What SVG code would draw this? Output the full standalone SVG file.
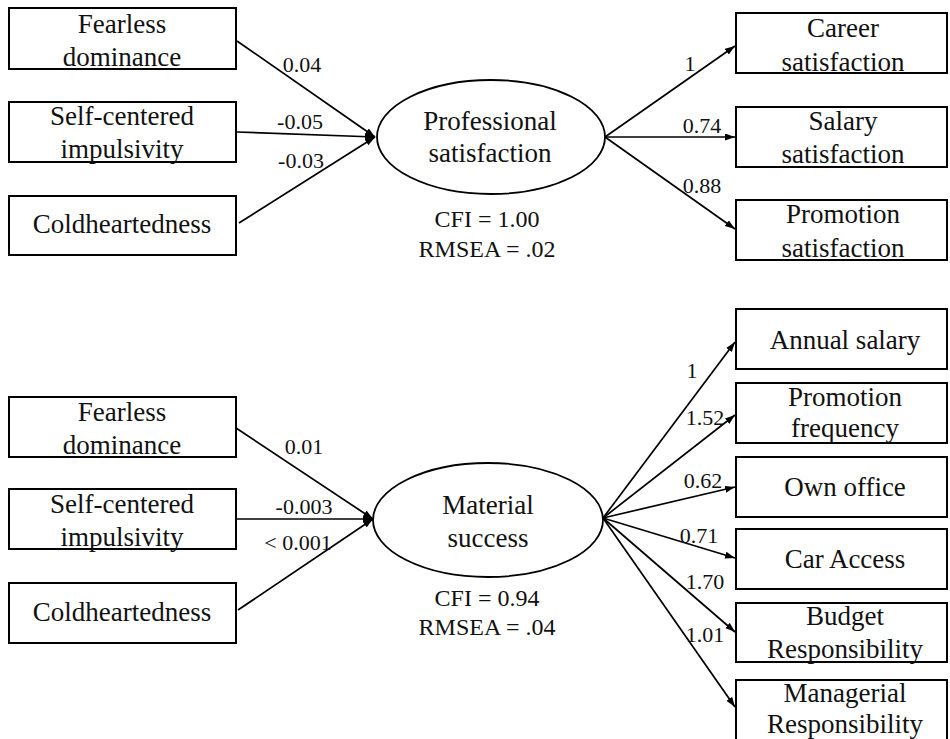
<svg xmlns="http://www.w3.org/2000/svg" width="950" height="739" viewBox="0 0 950 739">
<style>
  .box{fill:#fff;stroke:#000;stroke-width:2}
  .lat{fill:#fff;stroke:#000;stroke-width:1.8}
  .t{font-family:"Liberation Serif","Times New Roman",serif;font-size:27px;fill:#111;text-anchor:middle}
  .fit{font-family:"Liberation Serif","Times New Roman",serif;font-size:24px;fill:#111;text-anchor:middle}
  .lbl{font-family:"Liberation Serif","Times New Roman",serif;font-size:22px;fill:#111;text-anchor:middle}
  .edge{fill:none;stroke:#000;stroke-width:1.7;marker-end:url(#arr)}
</style>
<defs>
  <marker id="arr" markerUnits="userSpaceOnUse" markerWidth="11" markerHeight="9" refX="10" refY="3.5" orient="auto">
    <path d="M0,0 L10,3.5 L0,7 z" fill="#000"/>
  </marker>
</defs>
<rect width="950" height="739" fill="#fff"/>

<g id="connectors">
  <line class="edge" x1="237" y1="41" x2="375" y2="137"/>
  <line class="edge" x1="237" y1="132" x2="375" y2="137"/>
  <line class="edge" x1="239" y1="223" x2="375" y2="137"/>
  <line class="edge" x1="605" y1="137" x2="735" y2="46"/>
  <line class="edge" x1="605" y1="137" x2="735" y2="137"/>
  <line class="edge" x1="605" y1="137" x2="735" y2="229"/>

  <line class="edge" x1="236" y1="428" x2="373" y2="519"/>
  <line class="edge" x1="236" y1="519" x2="373" y2="519"/>
  <line class="edge" x1="238" y1="610" x2="373" y2="519"/>
  <line class="edge" x1="603" y1="518" x2="735" y2="342"/>
  <line class="edge" x1="603" y1="518" x2="735" y2="415"/>
  <line class="edge" x1="603" y1="518" x2="735" y2="487"/>
  <line class="edge" x1="603" y1="518" x2="735" y2="558"/>
  <line class="edge" x1="603" y1="518" x2="735" y2="632"/>
  <line class="edge" x1="603" y1="518" x2="735" y2="707"/>

  <text class="lbl" x="302" y="72">0.04</text>
  <text class="lbl" x="300" y="129">-0.05</text>
  <text class="lbl" x="301" y="168">-0.03</text>
  <text class="lbl" x="690" y="71">1</text>
  <text class="lbl" x="702" y="133">0.74</text>
  <text class="lbl" x="702" y="193">0.88</text>

  <text class="lbl" x="304" y="454">0.01</text>
  <text class="lbl" x="304" y="514">-0.003</text>
  <text class="lbl" x="298" y="550">&lt; 0.001</text>
  <text class="lbl" x="692" y="378">1</text>
  <text class="lbl" x="705" y="425">1.52</text>
  <text class="lbl" x="703" y="488">0.62</text>
  <text class="lbl" x="699" y="543">0.71</text>
  <text class="lbl" x="705" y="589">1.70</text>
  <text class="lbl" x="705" y="642">1.01</text>
</g>

<g id="fd1"><rect class="box" x="9" y="8" width="227" height="61"/><text class="t" x="122" y="33">Fearless</text><text class="t" x="122" y="66">dominance</text></g>
<g id="sci1"><rect class="box" x="9" y="102" width="227" height="60"/><text class="t" x="122" y="125">Self-centered</text><text class="t" x="122" y="158">impulsivity</text></g>
<g id="ch1"><rect class="box" x="9" y="196" width="227" height="59"/><text class="t" x="122" y="233">Coldheartedness</text></g>

<g id="ps"><ellipse class="lat" cx="491" cy="137" rx="114" ry="57"/><text class="t" x="490" y="130">Professional</text><text class="t" x="490" y="162">satisfaction</text></g>
<g id="fit1"><text class="fit" x="487" y="227">CFI = 1.00</text><text class="fit" x="487" y="257">RMSEA = .02</text></g>

<g id="cs"><rect class="box" x="736" y="13" width="211" height="60"/><text class="t" x="843" y="37">Career</text><text class="t" x="843" y="71">satisfaction</text></g>
<g id="ss"><rect class="box" x="736" y="107" width="211" height="60"/><text class="t" x="843" y="130">Salary</text><text class="t" x="843" y="163">satisfaction</text></g>
<g id="prs"><rect class="box" x="736" y="200" width="211" height="60"/><text class="t" x="843" y="223">Promotion</text><text class="t" x="843" y="257">satisfaction</text></g>

<g id="fd2"><rect class="box" x="9" y="397" width="227" height="60"/><text class="t" x="122" y="421">Fearless</text><text class="t" x="122" y="454">dominance</text></g>
<g id="sci2"><rect class="box" x="9" y="489" width="227" height="60"/><text class="t" x="122" y="513">Self-centered</text><text class="t" x="122" y="546">impulsivity</text></g>
<g id="ch2"><rect class="box" x="9" y="583" width="227" height="60"/><text class="t" x="122" y="621">Coldheartedness</text></g>

<g id="ms"><ellipse class="lat" cx="488" cy="520" rx="115" ry="57"/><text class="t" x="488" y="514">Material</text><text class="t" x="488" y="547">success</text></g>
<g id="fit2"><text class="fit" x="487" y="606">CFI = 0.94</text><text class="fit" x="487" y="635">RMSEA = .04</text></g>

<g id="as"><rect class="box" x="736" y="309" width="211" height="60"/><text class="t" x="845" y="349">Annual salary</text></g>
<g id="pf"><rect class="box" x="736" y="383" width="211" height="60"/><text class="t" x="845" y="406">Promotion</text><text class="t" x="845" y="437">frequency</text></g>
<g id="oo"><rect class="box" x="736" y="457" width="211" height="60"/><text class="t" x="845" y="496">Own office</text></g>
<g id="ca"><rect class="box" x="736" y="529" width="211" height="60"/><text class="t" x="845" y="568">Car Access</text></g>
<g id="br"><rect class="box" x="736" y="603" width="211" height="59"/><text class="t" x="845" y="625">Budget</text><text class="t" x="845" y="658">Responsibility</text></g>
<g id="mr"><rect class="box" x="736" y="680" width="211" height="70"/><text class="t" x="845" y="702">Managerial</text><text class="t" x="845" y="733">Responsibility</text></g>
</svg>
